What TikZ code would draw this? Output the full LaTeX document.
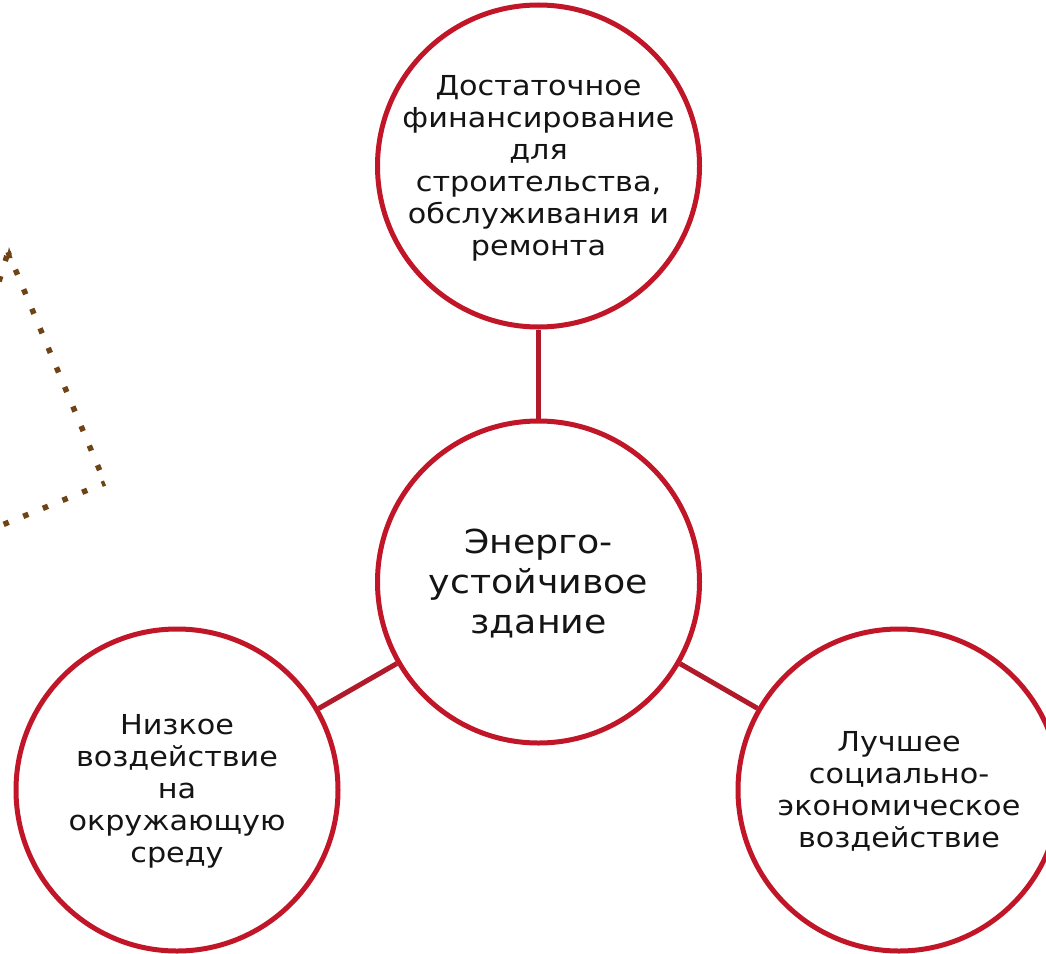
\documentclass[tikz,border=0pt]{standalone}
\usepackage{fontspec}
\setmainfont{DejaVu Sans}[FakeStretch=1.1]
\definecolor{ringred}{RGB}{193,21,40}
\definecolor{linkred}{RGB}{176,26,42}
\definecolor{dotbrown}{RGB}{110,68,22}
\definecolor{inkblack}{RGB}{20,20,20}
\begin{document}
\begin{tikzpicture}[x=1pt,y=-1pt,
  ring/.style={circle, draw=ringred, line width=5pt, minimum size=322pt, inner sep=0pt, fill=white},
  txt/.style={align=center, text=inkblack, font=\fontsize{27.5}{32}\selectfont},
  bigtxt/.style={align=center, text=inkblack, font=\fontsize{33}{40}\selectfont},
  link/.style={draw=linkred, line width=5pt},
  dotline/.style={draw=dotbrown, line width=5.5pt, dash pattern=on 5.5pt off 15.7pt}]
\useasboundingbox (0,0) rectangle (1046,953);
\clip (0,0) rectangle (1046,953);

% decorative dotted outline
\coordinate (dA) at (-8,305);
\coordinate (dB) at (8,252);
\coordinate (dC) at (105,483);
\coordinate (dD) at (-20,534);
\draw[dotline, dash phase=2.05pt] (dB) -- (dC);
\draw[dotline, dash phase=2pt] (dC) -- (dD);
\draw[dotline, dash phase=-4pt] (dB) -- (dA);
\fill[dotbrown] (9,247) -- (12.5,258) -- (6.5,258.5) -- cycle;

% circles
\node[ring] (top) at (538.5,166) {};
\node[ring] (mid) at (538.5,582) {};
\node[ring] (left) at (177,790) {};
\node[ring] (right) at (899,790) {};

% connectors
\draw[link] (top) -- (mid);
\draw[link] (mid) -- (left);
\draw[link] (mid) -- (right);

% texts
\node[txt] (ttop) at ([yshift=-2pt]top) {Достаточное\\финансирование\\для\\строительства,\\обслуживания и\\ремонта};
\node[bigtxt] (tmid) at ([yshift=-2pt]mid) {Энерго-\\устойчивое\\здание};
\node[txt] (tleft) at ([yshift=-1pt]left) {Низкое\\воздействие\\на\\окружающую\\среду};
\node[txt] (tright) at ([yshift=-1pt]right) {Лучшее\\социально-\\экономическое\\воздействие};
\end{tikzpicture}
\end{document}
